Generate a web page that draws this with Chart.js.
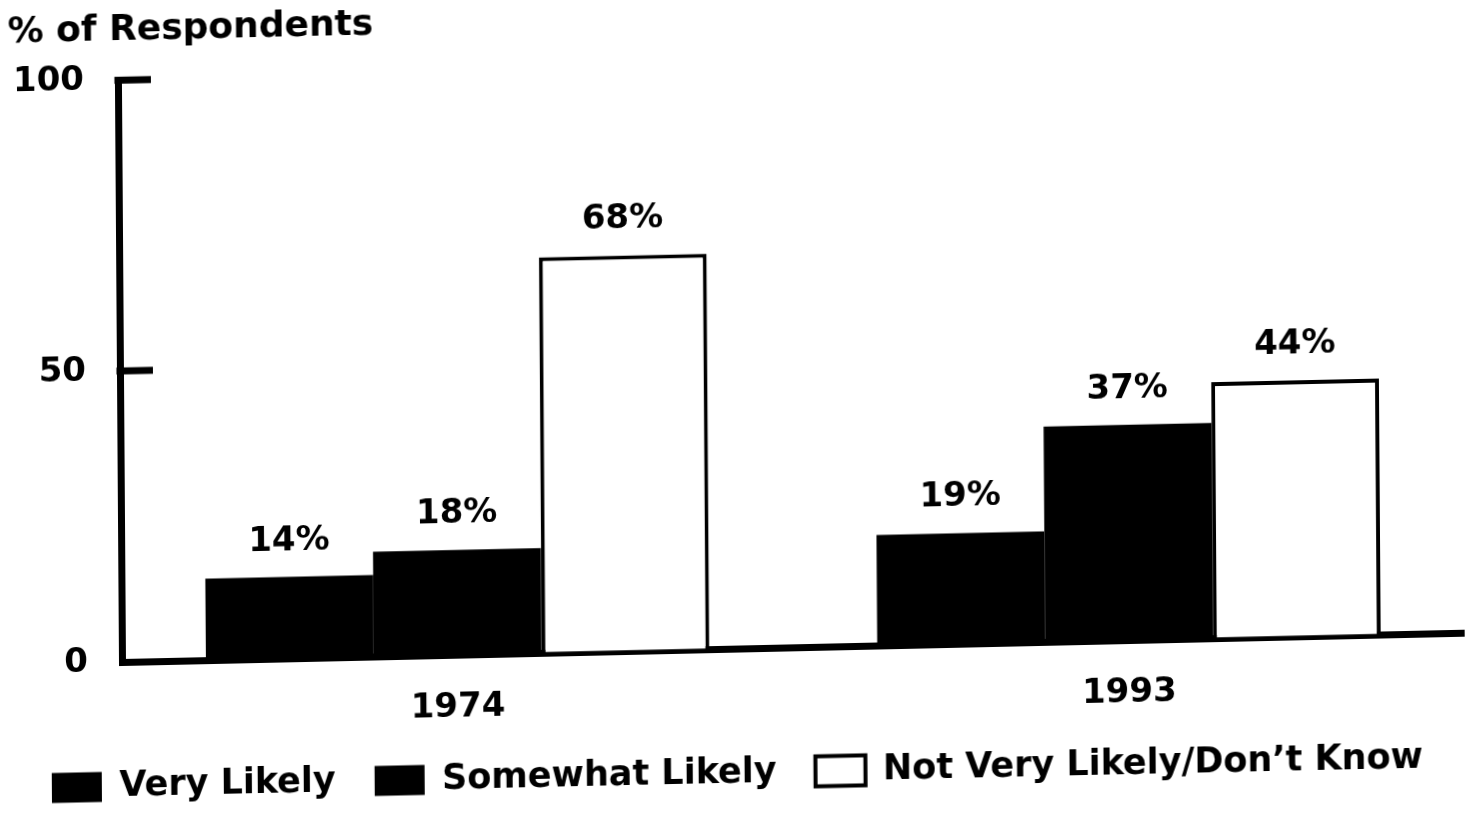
<!DOCTYPE html>
<html>
<head>
<meta charset="utf-8">
<title>% of Respondents, 1974 and 1993</title>
<script src="https://cdn.jsdelivr.net/npm/chart.js@4/dist/chart.umd.min.js"></script>
<style>
  html, body { margin: 0; padding: 0; background: #fff; overflow: hidden; }
  #wrap {
    width: 1465px; height: 814px;
    transform-origin: 122px 662px;
    transform: rotate(-0.4deg) skewY(-0.85deg);
  }
  canvas { display: block; }
</style>
</head>
<body>
<div id="wrap"><canvas id="chart" width="1465" height="814"></canvas></div>
<script>
// Survey years on the category axis
const categories = ['1974', '1993'];

// Share of respondents per answer, in percent
const veryLikely = [14, 19];
const somewhatLikely = [18, 37];
const notVeryLikely = [68, 44];

// Series names shown in the legend
const seriesLabels = ['Very Likely', 'Somewhat Likely', 'Not Very Likely/Don\u2019t Know'];

// Value axis tick labels
const yTicks = [0, 50, 100];

const FONT = 'DejaVu Sans';
Chart.defaults.font.family = FONT;
Chart.defaults.font.weight = 'bold';
Chart.defaults.color = '#000';

// Percent labels above each bar
const valueLabels = {
  id: 'valueLabels',
  afterDatasetsDraw(chart) {
    const ctx = chart.ctx;
    ctx.save();
    ctx.font = 'bold 34px "' + FONT + '"';
    ctx.fillStyle = '#000';
    ctx.textAlign = 'center';
    ctx.textBaseline = 'alphabetic';
    chart.data.datasets.forEach((ds, i) => {
      chart.getDatasetMeta(i).data.forEach((bar, j) => {
        ctx.fillText(ds.data[j] + '%', bar.x, bar.y - 27);
      });
    });
    ctx.restore();
  }
};

// Short tick marks pointing into the plot from the value axis
const innerTicks = {
  id: 'innerTicks',
  afterDraw(chart) {
    const ctx = chart.ctx;
    const y = chart.scales.y;
    const left = chart.chartArea.left;
    ctx.save();
    ctx.strokeStyle = '#000';
    ctx.lineWidth = 7;
    ctx.lineCap = 'butt';
    yTicks.filter(v => v > 0).forEach(v => {
      const py = y.getPixelForValue(v);
      ctx.beginPath();
      ctx.moveTo(left - 3.5, py);
      ctx.lineTo(left + 33, py);
      ctx.stroke();
    });
    ctx.restore();
  }
};

new Chart(document.getElementById('chart'), {
  type: 'bar',
  data: {
    labels: categories,
    datasets: [
      { label: seriesLabels[0], data: veryLikely, backgroundColor: '#000', borderColor: '#000', borderWidth: 0 },
      { label: seriesLabels[1], data: somewhatLikely, backgroundColor: '#000', borderColor: '#000', borderWidth: 0 },
      { label: seriesLabels[2], data: notVeryLikely, backgroundColor: '#fff', borderColor: '#000', borderWidth: 4 }
    ]
  },
  options: {
    responsive: false,
    animation: false,
    events: [],
    layout: { padding: { left: 12, right: 0, top: 5, bottom: 0 } },
    datasets: { bar: { barPercentage: 1, categoryPercentage: 0.75 } },
    scales: {
      x: {
        z: 1,
        afterFit(scale) { scale.height = 68; },
        grid: { display: true, drawOnChartArea: false, drawTicks: false },
        border: { display: true, color: '#000', width: 7 },
        ticks: { font: { size: 34, weight: 'bold' }, padding: 33, color: '#000' }
      },
      y: {
        z: 1,
        min: 0,
        max: 100,
        afterFit(scale) { scale.width = 110; },
        afterBuildTicks(scale) { scale.ticks = yTicks.map(v => ({ value: v })); },
        grid: { display: true, drawOnChartArea: false, drawTicks: false },
        border: { display: true, color: '#000', width: 7 },
        ticks: { font: { size: 34, weight: 'bold' }, padding: 34, color: '#000', callback: v => String(v) }
      }
    },
    plugins: {
      title: {
        display: true,
        text: '% of Respondents',
        align: 'start',
        color: '#000',
        font: { size: 36, weight: 'bold' },
        padding: { top: 4, bottom: 28 }
      },
      legend: {
        display: true,
        position: 'bottom',
        align: 'start',
        labels: {
          boxWidth: 50,
          boxHeight: 30,
          padding: 39,
          color: '#000',
          font: { size: 35, weight: 'bold' }
        }
      },
      tooltip: { enabled: false }
    }
  },
  plugins: [valueLabels, innerTicks]
});
</script>
</body>
</html>
